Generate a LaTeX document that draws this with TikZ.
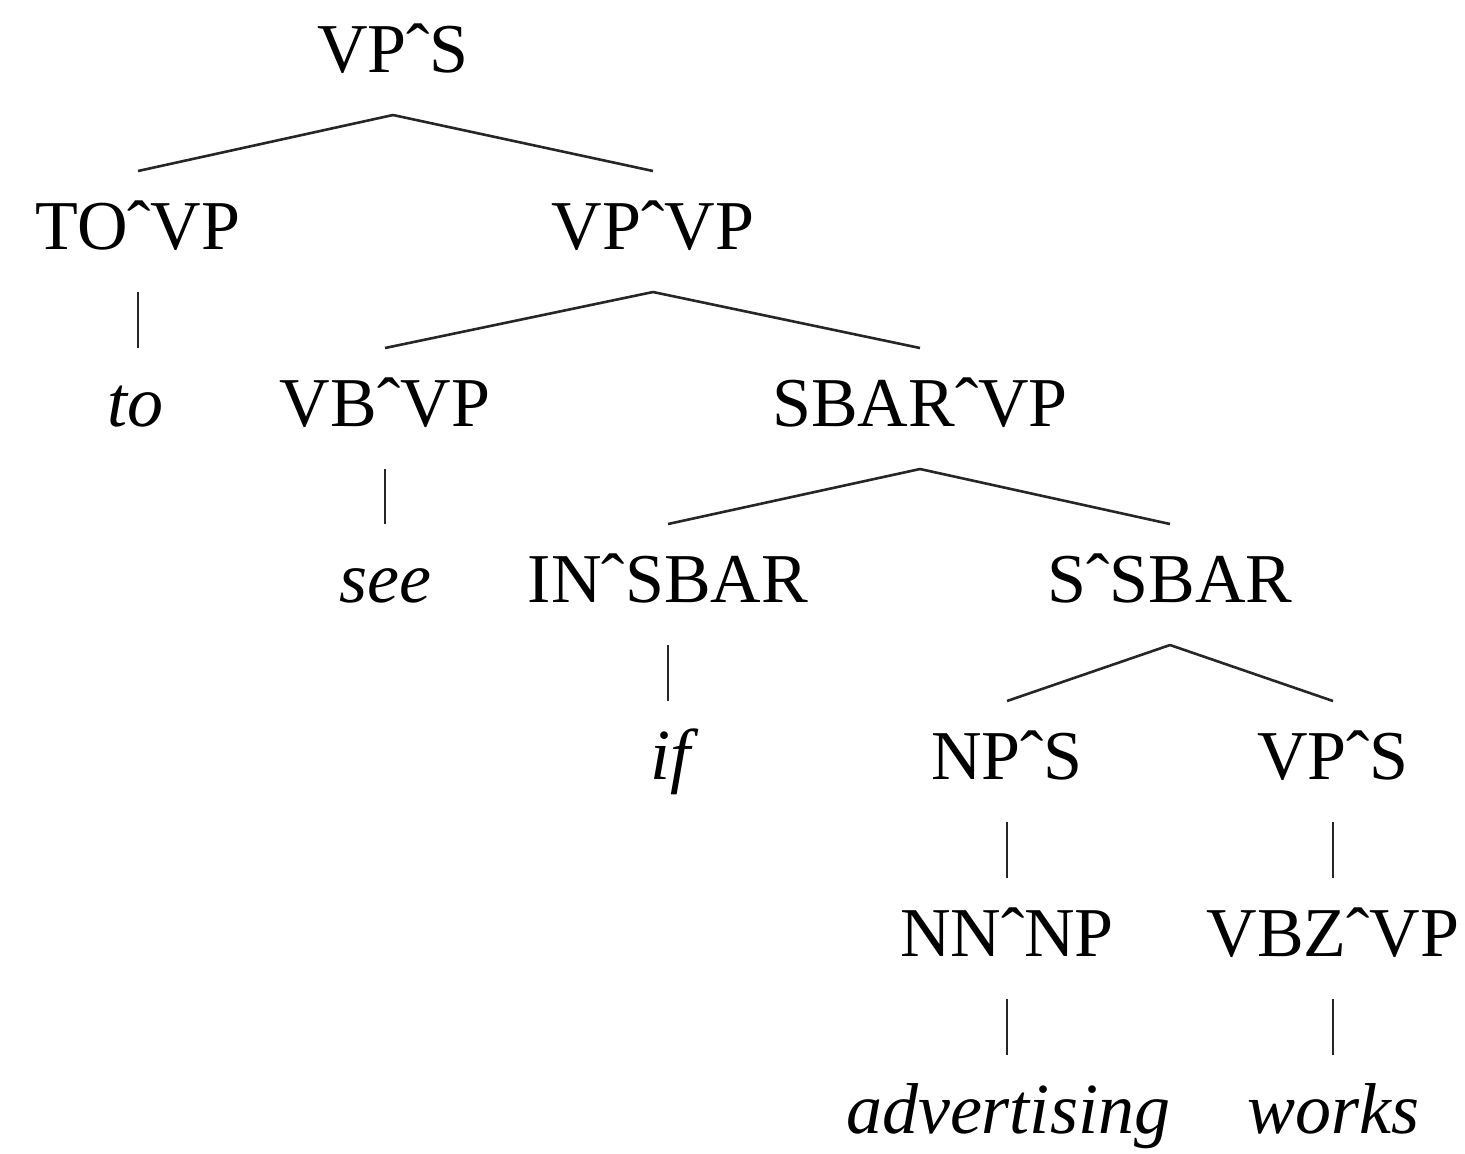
\documentclass[tikz,border=0pt]{standalone}
\usepackage{fontspec}
\setmainfont{Liberation Serif}
\newcommand{\crt}{\symbol{"02C6}}
\begin{document}
\begin{tikzpicture}[x=0.5pt,y=-0.5pt,
  lab/.style={anchor=base,inner sep=0pt,font=\fontsize{35}{40}\selectfont},
  word/.style={lab,font=\fontsize{36}{40}\selectfont\itshape},
  edge/.style={line width=1.3pt,black!85}]
\useasboundingbox (0,0) rectangle (1465,1153);
\node[lab] (vps) at (393,72) {VP\crt S};
\node[lab] (tovp) at (138,249) {TO\crt VP};
\node[lab] (vpvp) at (653,249) {VP\crt VP};
\node[word] (to) at (135,426) {to};
\node[lab] (vbvp) at (385,426) {VB\crt VP};
\node[lab] (sbarvp) at (920,426) {SBAR\crt VP};
\node[word] (see) at (385,602) {see};
\node[lab] (insbar) at (668,602) {IN\crt SBAR};
\node[lab] (ssbar) at (1170,602) {S\crt SBAR};
\node[word] (if) at (670,779) {if};
\node[lab] (nps) at (1007,779) {NP\crt S};
\node[lab] (vps2) at (1333,779) {VP\crt S};
\node[lab] (nnnp) at (1007,956) {NN\crt NP};
\node[lab] (vbzvp) at (1333,956) {VBZ\crt VP};
\node[word] (adv) at (1008,1133) {advertising};
\node[word] (works) at (1333,1133) {works};
% connectors: start 43px below parent baseline, end 78px above child baseline
\newcommand{\tedge}[2]{\draw[edge] ([yshift=-21.5pt]#1.base) -- ([yshift=39pt]#2.base);}
\tedge{vps}{tovp}
\tedge{vps}{vpvp}
\draw[edge] ([yshift=-21.5pt]tovp.base) -- ([yshift=39pt]tovp.base |- to.base);
\tedge{vpvp}{vbvp}
\tedge{vpvp}{sbarvp}
\tedge{vbvp}{see}
\tedge{sbarvp}{insbar}
\tedge{sbarvp}{ssbar}
\draw[edge] ([yshift=-21.5pt]insbar.base) -- ([yshift=39pt]insbar.base |- if.base);
\tedge{ssbar}{nps}
\tedge{ssbar}{vps2}
\tedge{nps}{nnnp}
\tedge{vps2}{vbzvp}
\draw[edge] ([yshift=-21.5pt]nnnp.base) -- ([yshift=39pt]nnnp.base |- adv.base);
\tedge{vbzvp}{works}
\end{tikzpicture}
\end{document}
